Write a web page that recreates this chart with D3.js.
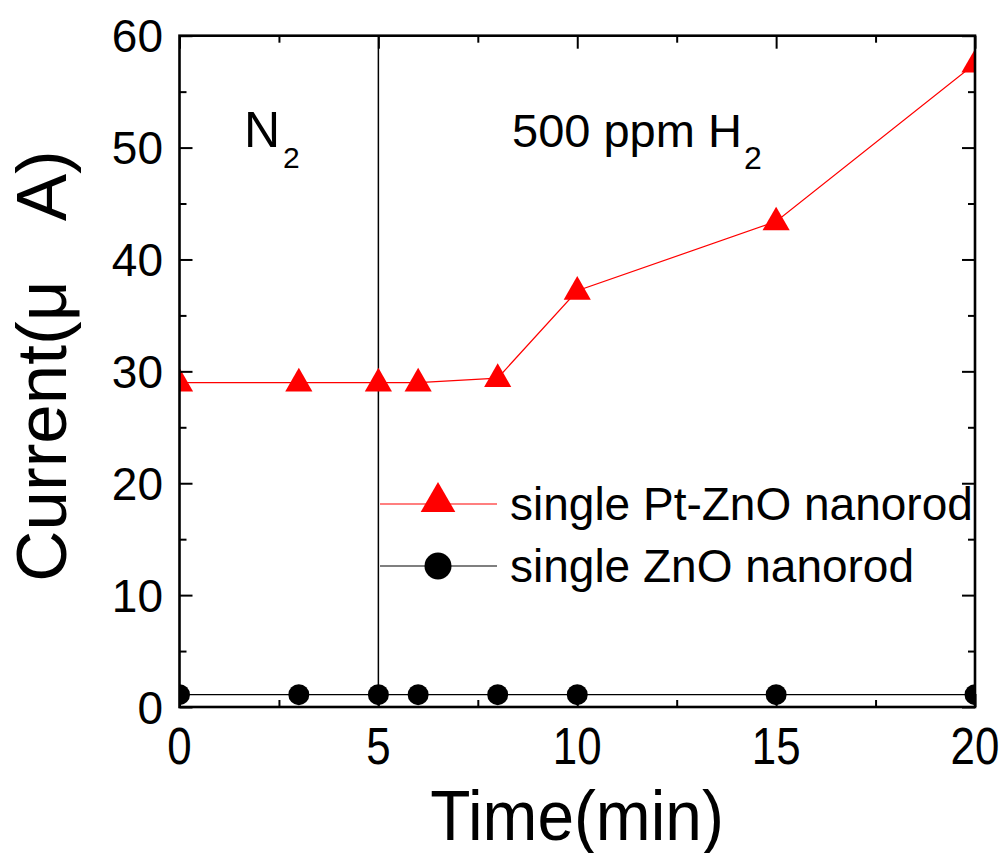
<!DOCTYPE html>
<html><head><meta charset="utf-8">
<script src="https://cdn.jsdelivr.net/npm/d3@7"></script>
<style>body{margin:0;background:#fff}svg{display:block}text{font-family:"Liberation Sans",Arial,sans-serif;fill:#000}</style>
</head><body>
<script>
const times = [0, 3, 5, 6, 8, 10, 15, 20];
const ptZnO = [29.0, 29.0, 29.0, 29.0, 29.4, 37.2, 43.4, 57.5];
const znO = [1.1, 1.1, 1.1, 1.1, 1.1, 1.1, 1.1, 1.1];
const xTicks = [0, 5, 10, 15, 20];
const yTicks = [0, 10, 20, 30, 40, 50, 60];
const xMinor = [2.5, 7.5, 12.5, 17.5];
const yMinor = [5, 15, 25, 35, 45, 55];
const seriesNames = ["single Pt-ZnO nanorod", "single ZnO nanorod"];

const W = 1003, H = 853;
const L = 179.5, R = 975, T = 35.7, B = 707;
const svg = d3.select("body").append("svg").attr("width", W).attr("height", H);
const x = d3.scaleLinear().domain([0, 20]).range([L, R]);
const y = d3.scaleLinear().domain([0, 60]).range([B, T]);

svg.append("defs").append("clipPath").attr("id", "clip")
  .append("rect").attr("x", L).attr("y", T).attr("width", R - L).attr("height", B - T);

const plot = svg.append("g").attr("clip-path", "url(#clip)");

// vertical divider at t=5
plot.append("line").attr("x1", x(5)).attr("x2", x(5)).attr("y1", T).attr("y2", B)
  .attr("stroke", "#000").attr("stroke-width", 1.5);

const line = d3.line().x((d, i) => x(times[i])).y(d => y(d));
plot.append("path").datum(znO).attr("d", line).attr("fill", "none").attr("stroke", "#000").attr("stroke-width", 1.2);
plot.append("path").datum(ptZnO).attr("d", line).attr("fill", "none").attr("stroke", "#ff0000").attr("stroke-width", 1.2);

const tri = d3.symbol().type(d3.symbolTriangle).size(320);
const circ = d3.symbol().type(d3.symbolCircle).size(Math.PI * 10.5 * 10.5);
plot.selectAll(".c").data(znO).enter().append("path")
  .attr("d", circ).attr("transform", (d, i) => `translate(${x(times[i])},${y(d)})`).attr("fill", "#000");
plot.selectAll(".t").data(ptZnO).enter().append("path")
  .attr("d", tri).attr("transform", (d, i) => `translate(${x(times[i])},${y(d)+1})`).attr("fill", "#ff0000");

// axes
const major = 13, minor = 7;
svg.append("g").attr("transform", `translate(0,${B})`)
  .call(d3.axisBottom(x).tickValues(xTicks).tickSize(-major).tickFormat(""));
svg.append("g").attr("transform", `translate(0,${B})`)
  .call(d3.axisBottom(x).tickValues(xMinor).tickSize(-minor).tickFormat(""));
svg.append("g").attr("transform", `translate(0,${T})`)
  .call(d3.axisTop(x).tickValues(xTicks).tickSize(-major).tickFormat(""));
svg.append("g").attr("transform", `translate(0,${T})`)
  .call(d3.axisTop(x).tickValues(xMinor).tickSize(-minor).tickFormat(""));
svg.append("g").attr("transform", `translate(${L},0)`)
  .call(d3.axisLeft(y).tickValues(yTicks).tickSize(-major).tickFormat(""));
svg.append("g").attr("transform", `translate(${L},0)`)
  .call(d3.axisLeft(y).tickValues(yMinor).tickSize(-minor).tickFormat(""));
svg.append("g").attr("transform", `translate(${R},0)`)
  .call(d3.axisRight(y).tickValues(yTicks).tickSize(-major).tickFormat(""));
svg.append("g").attr("transform", `translate(${R},0)`)
  .call(d3.axisRight(y).tickValues(yMinor).tickSize(-minor).tickFormat(""));
svg.selectAll(".domain").remove();
svg.selectAll(".tick line").attr("stroke", "#000").attr("stroke-width", 2);

svg.append("rect").attr("x", L).attr("y", T).attr("width", R - L).attr("height", B - T)
  .attr("fill", "none").attr("stroke", "#000").attr("stroke-width", 2.6);

// tick labels
svg.selectAll(".xl").data(xTicks).enter().append("text")
  .attr("transform", d => `translate(${x(d)},764) scale(0.86,1)`)
  .attr("text-anchor", "middle").attr("font-size", 51).text(d => d);
svg.selectAll(".yl").data(yTicks).enter().append("text")
  .attr("x", 163).attr("y", d => y(d) + 16.5)
  .attr("text-anchor", "end").attr("font-size", 46).text(d => d);

// axis titles
svg.append("text").attr("transform", `translate(577,840) scale(0.94,1)`)
  .attr("text-anchor", "middle").attr("font-size", 70).text("Time(min)");
svg.append("text").attr("transform", `translate(66,366) rotate(-90)`)
  .attr("text-anchor", "middle").attr("font-size", 71)
  .style("white-space", "pre").attr("xml:space", "preserve").text("Current(μ   A)");

// annotations
const n2 = svg.append("text").attr("x", 244).attr("y", 147).attr("font-size", 50);
n2.append("tspan").text("N");
n2.append("tspan").attr("font-size", 30).attr("dy", 21).attr("dx", 3).text("2");
const h2 = svg.append("text").attr("x", 512).attr("y", 147).attr("font-size", 47);
h2.append("tspan").text("500 ppm H");
h2.append("tspan").attr("font-size", 32).attr("dy", 22).attr("dx", 2).text("2");

// legend
const lg = svg.append("g");
lg.append("line").attr("x1", 380).attr("x2", 497).attr("y1", 504).attr("y2", 504).attr("stroke", "#ff0000").attr("stroke-width", 1.2);
lg.append("path").attr("d", d3.symbol().type(d3.symbolTriangle).size(520)).attr("transform", "translate(438,502)").attr("fill", "#ff0000");
lg.append("line").attr("x1", 380).attr("x2", 497).attr("y1", 566).attr("y2", 566).attr("stroke", "#000").attr("stroke-width", 1.2);
lg.append("path").attr("d", d3.symbol().type(d3.symbolCircle).size(Math.PI * 13.5 * 13.5)).attr("transform", "translate(438,566)").attr("fill", "#000");
lg.selectAll(".lt").data(seriesNames).enter().append("text")
  .attr("x", 510).attr("y", (d, i) => 520 + i * 62).attr("font-size", 46).text(d => d);
</script>
</body></html>
